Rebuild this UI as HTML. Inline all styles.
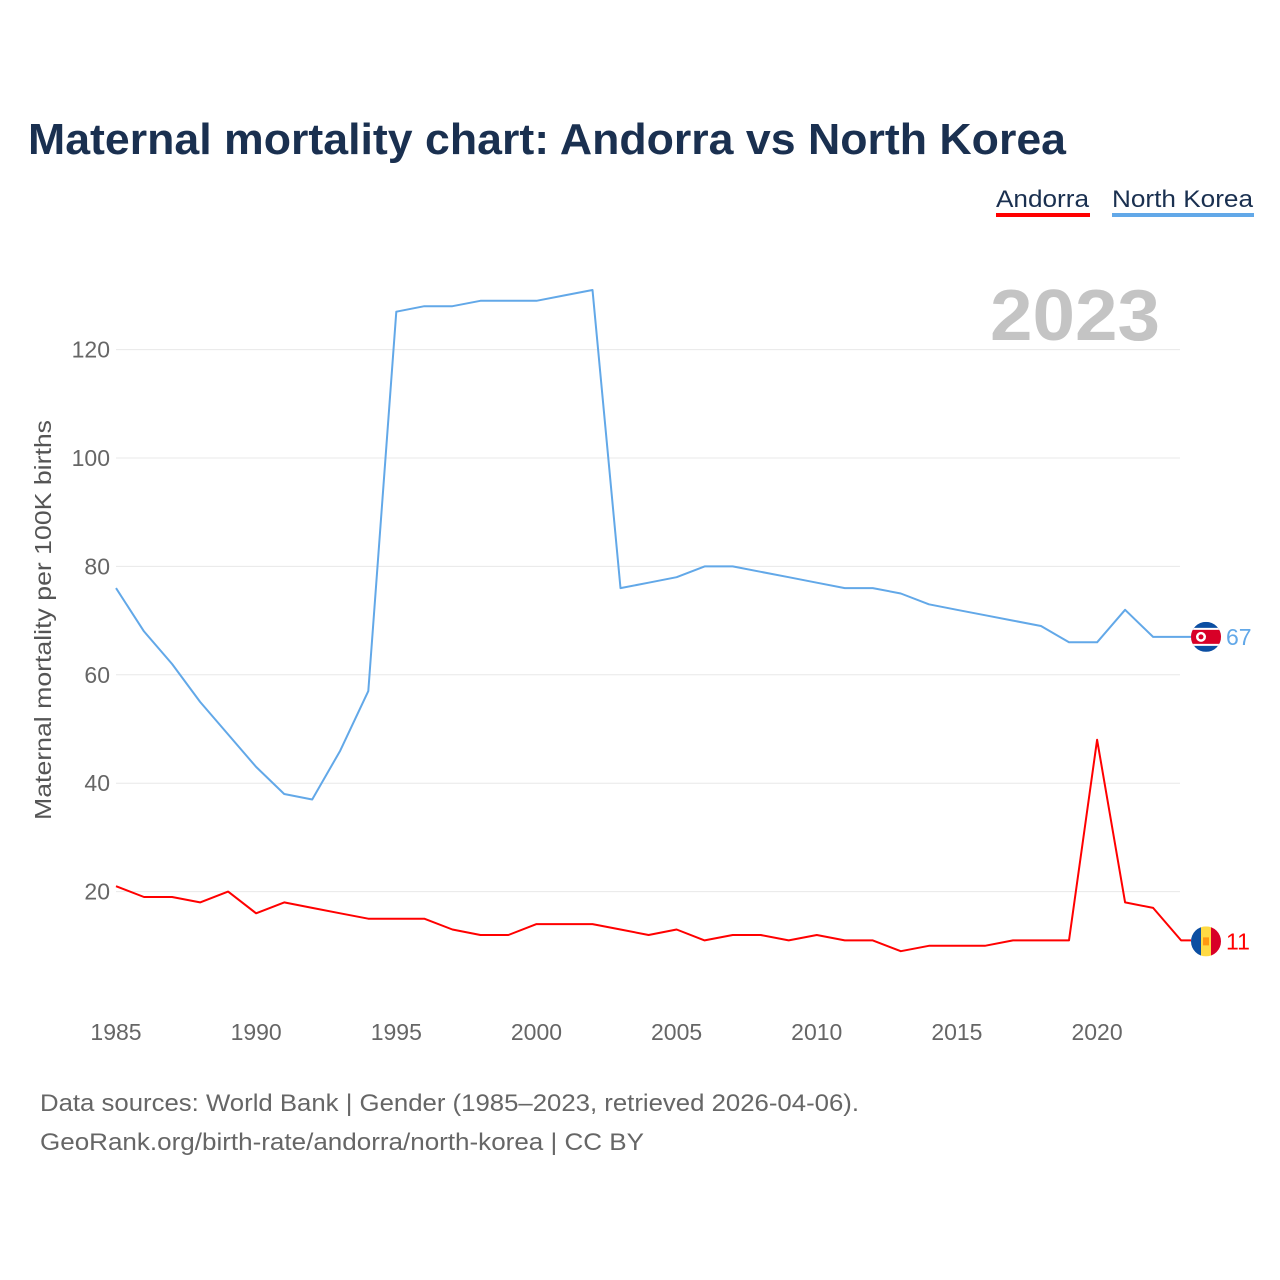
<!DOCTYPE html>
<html><head><meta charset="utf-8"><style>
html,body{margin:0;padding:0;background:#fff;}
svg{display:block;font-family:"Liberation Sans",sans-serif;}
</style></head><body>
<svg id="chart" width="1280" height="1280" viewBox="0 0 1280 1280">
<text x="28" y="154" font-size="44" font-weight="bold" fill="#1a3050" textLength="1038" lengthAdjust="spacingAndGlyphs">Maternal mortality chart: Andorra vs North Korea</text>
<g>
<text x="996" y="207" font-size="24" fill="#1a3050" textLength="93" lengthAdjust="spacingAndGlyphs">Andorra</text>
<rect x="996" y="213" width="94" height="4" fill="#ff0000"/>
</g>
<g>
<text x="1112" y="207" font-size="24" fill="#1a3050" textLength="141" lengthAdjust="spacingAndGlyphs">North Korea</text>
<rect x="1112" y="213" width="142" height="4" fill="#62a8e8"/>
</g>
<text x="990" y="340" font-size="72" font-weight="bold" fill="#c4c4c4" textLength="170" lengthAdjust="spacingAndGlyphs">2023</text>
<g id="grid"></g>
<g id="yticks"></g>
<g id="xticks"></g>
<text transform="translate(51,620) rotate(-90)" font-size="23" fill="#555" text-anchor="middle" textLength="400" lengthAdjust="spacingAndGlyphs">Maternal mortality per 100K births</text>
<g id="series"></g>
<text x="40" y="1111" font-size="24" fill="#666" textLength="819" lengthAdjust="spacingAndGlyphs">Data sources: World Bank | Gender (1985–2023, retrieved 2026-04-06).</text>
<text x="40" y="1150" font-size="24" fill="#666" textLength="604" lengthAdjust="spacingAndGlyphs">GeoRank.org/birth-rate/andorra/north-korea | CC BY</text>
</svg>
<script>
const years = [];
for (let y = 1985; y <= 2023; y++) years.push(y);
const northKorea = [76,68,62,55,49,43,38,37,46,57,127,128,128,129,129,129,130,131,76,77,78,80,80,79,78,77,76,76,75,73,72,71,70,69,66,66,72,67,67];
const andorra = [21,19,19,18,20,16,18,17,16,15,15,15,13,12,12,14,14,14,13,12,13,11,12,12,11,12,11,11,9,10,10,10,11,11,11,48,18,17,11];
const yTicks = [20,40,60,80,100,120];
const xTicks = [1985,1990,1995,2000,2005,2010,2015,2020];

const NS = "http://www.w3.org/2000/svg";
const xS = v => 116 + (v - 1985) * 28.03;
const yS = v => 1000 - v * 5.42;
function mk(tag, attrs, parent) {
  const e = document.createElementNS(NS, tag);
  for (const k in attrs) e.setAttribute(k, attrs[k]);
  parent.appendChild(e);
  return e;
}
const grid = document.getElementById('grid');
const yt = document.getElementById('yticks');
const xt = document.getElementById('xticks');
const ser = document.getElementById('series');
yTicks.forEach(t => {
  const l = mk('line', {x1: 116, x2: 1180, y1: yS(t), y2: yS(t), stroke: '#e8e8e8', 'stroke-width': 1}, grid);
  
  
  const tx = mk('text', {x: 110, y: yS(t) + 8, 'font-size': 23, fill: '#666', 'text-anchor': 'end'}, yt);
  tx.textContent = t;
  
  
});
xTicks.forEach(t => {
  const tx = mk('text', {x: xS(t), y: 1040, 'font-size': 23, fill: '#666', 'text-anchor': 'middle'}, xt);
  tx.textContent = t;
  
  
});
function drawSeries(vals, color, name) {
  const pts = vals.map((v, i) => xS(years[i]).toFixed(1) + ',' + yS(v).toFixed(1));
  const lastX = xS(years[years.length - 1]);
  const lastY = yS(vals[vals.length - 1]);
  const p = mk('polyline', {points: pts.join(' ') + ' ' + (lastX + 10) + ',' + lastY.toFixed(1), fill: 'none', stroke: color, 'stroke-width': 2, 'stroke-linejoin': 'round'}, ser);
  
  
  return [lastX, lastY];
}
const nk = drawSeries(northKorea, '#62a8e8', 'north-korea');
const an = drawSeries(andorra, '#ff0000', 'andorra');

(function () {
  const cx = 1206, cy = nk[1];
  const g = mk('g', {}, ser);
  
  
  const cpth = mk('clipPath', {id: 'cnk'}, g);
  mk('circle', {cx: cx, cy: cy, r: 15}, cpth);
  const f = mk('g', {'clip-path': 'url(#cnk)'}, g);
  mk('rect', {x: cx - 15, y: cy - 15, width: 30, height: 30, fill: '#0b4ea2'}, f);
  mk('rect', {x: cx - 15, y: cy - 9, width: 30, height: 18, fill: '#fff'}, f);
  mk('rect', {x: cx - 15, y: cy - 7, width: 30, height: 14, fill: '#d80027'}, f);
  mk('circle', {cx: cx - 5, cy: cy, r: 5, fill: '#fff'}, f);
  mk('circle', {cx: cx - 5, cy: cy, r: 2.5, fill: '#d80027'}, f);
  const t = mk('text', {x: 1226, y: cy + 8, 'font-size': 23, fill: '#62a8e8'}, g);
  t.textContent = northKorea[northKorea.length - 1];
  
  
})();
(function () {
  const cx = 1206, cy = an[1] + 1;
  const g = mk('g', {}, ser);
  
  
  const cpth = mk('clipPath', {id: 'can'}, g);
  mk('circle', {cx: cx, cy: cy, r: 15}, cpth);
  const f = mk('g', {'clip-path': 'url(#can)'}, g);
  mk('rect', {x: cx - 15, y: cy - 15, width: 10, height: 30, fill: '#0b4ea2'}, f);
  mk('rect', {x: cx - 5, y: cy - 15, width: 10, height: 30, fill: '#ffda44'}, f);
  mk('rect', {x: cx + 5, y: cy - 15, width: 10, height: 30, fill: '#d80027'}, f);
  mk('rect', {x: cx - 3, y: cy - 4, width: 6, height: 8, fill: '#ff9811'}, f);
  const t = mk('text', {x: 1226, y: cy + 8, 'font-size': 23, fill: '#ff0000'}, g);
  t.textContent = andorra[andorra.length - 1];
  
  
})();
</script>
</body></html>
